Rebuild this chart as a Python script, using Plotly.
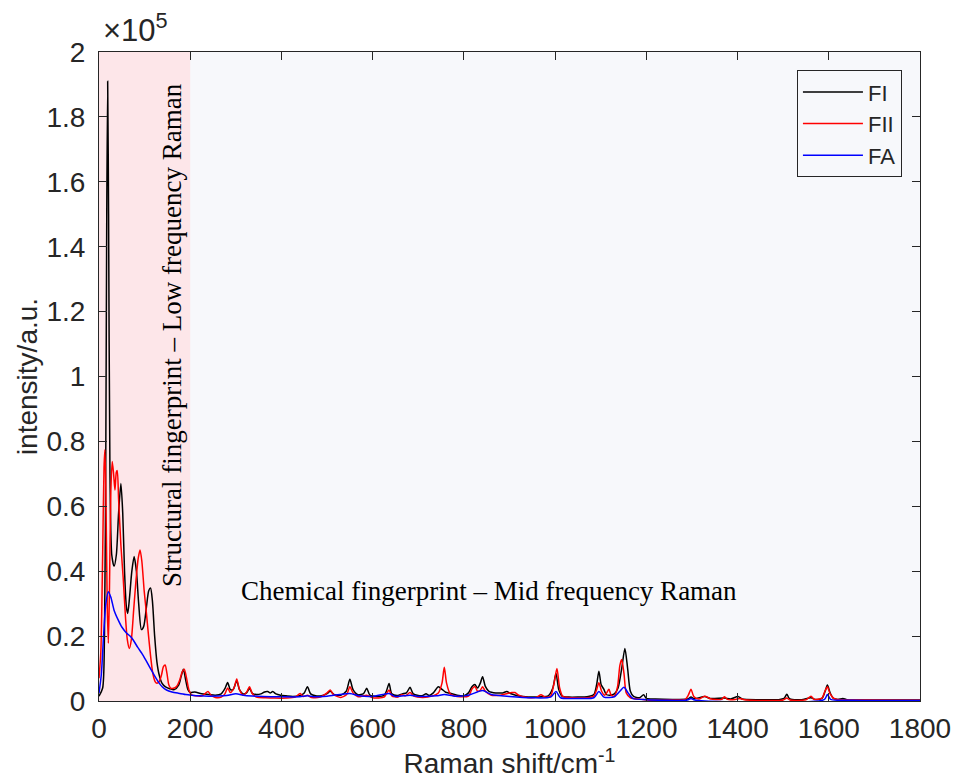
import plotly.graph_objects as go

# ---- data (Raman shift in cm^-1, intensity in a.u.) ----
fi_x = [0, 8, 12, 15, 17, 19, 21, 24, 28, 33, 38, 43, 48, 52, 56, 60, 63, 67, 72, 77, 82, 87, 93, 98, 104, 109, 113, 117, 122, 127, 132, 138, 145, 155, 165, 175, 180, 185, 190, 195, 200,
        210, 225, 240, 255, 268, 276, 282, 288, 294, 302, 308, 316, 324, 330, 336, 345, 355, 363, 370, 375, 381, 388, 398, 410, 425, 440, 450, 457, 464, 475, 490, 500, 507, 515, 530, 542, 550, 557, 568, 580, 587, 594, 610, 625, 630, 636, 642, 655, 665, 674, 682, 689, 700, 710, 717, 724, 733, 744, 752, 760, 770, 785, 800, 810, 818, 824, 830, 836, 841, 847, 855, 870, 885, 894, 902, 915, 930, 950, 970, 985, 995, 1002, 1008, 1015, 1030, 1050, 1070, 1085, 1091, 1096, 1101, 1107, 1112, 1120, 1130, 1138, 1146, 1153, 1159, 1165, 1172, 1185, 1194, 1200, 1220, 1260, 1290, 1298, 1305, 1328, 1340, 1371, 1385, 1401, 1410, 1450, 1490, 1502, 1508, 1514, 1540, 1561, 1570, 1585, 1592, 1597, 1603, 1610, 1620, 1631, 1640, 1700, 1800]
fi_y = [1500, 4000, 20000, 80000, 150000, 191000, 150000, 70000, 45000, 41500, 45000, 58000, 67000, 58000, 40000, 29000, 27000, 32000, 40000, 44500, 40000, 30000, 22000, 23000, 29000, 34000, 34800, 31000, 20000, 12000, 8000, 5500, 4400, 3800, 3500, 5000, 7500, 9800, 6500, 3500, 2600,
        2800, 2200, 2000, 1800, 2200, 3800, 5700, 3500, 3500, 6200, 3500, 2200, 2600, 3900, 2400, 2000, 2200, 2800, 2900, 2500, 2900, 2200, 1800, 1600, 1400, 1600, 2500, 4400, 2200, 1600, 1700, 2300, 3000, 2000, 1800, 3000, 6700, 3500, 1900, 2300, 3900, 1800, 1400, 1700, 3000, 5400, 2200, 1700, 2200, 2500, 4200, 2200, 1700, 1700, 2200, 1700, 2500, 4400, 3600, 2700, 2400, 1800, 1600, 2500, 4500, 5100, 4000, 5500, 7500, 4500, 3000, 2500, 2500, 2900, 2300, 1700, 1400, 1200, 1300, 1600, 4000, 8500, 3500, 1500, 1200, 1200, 1300, 2000, 5000, 9200, 5000, 3600, 2000, 1800, 2200, 4000, 10000, 16200, 10000, 3000, 1400, 1000, 1900, 800, 600, 500, 600, 1200, 700, 1400, 800, 900, 600, 1400, 600, 400, 400, 800, 2100, 700, 400, 1000, 500, 800, 3000, 4900, 2500, 800, 500, 800, 400, 300, 300]

fii_x = [0, 4, 8, 11, 13, 15, 18, 20.5, 23, 26, 29, 32, 35, 38, 40, 43, 48, 53, 58, 62, 66.5, 71, 76, 81, 86, 90, 94, 99, 104, 108, 113, 118, 123, 127, 132, 137, 141, 145, 149, 153, 157, 163, 170, 177, 182, 187, 192, 197, 203,
         212, 225, 232, 239, 246, 255, 268, 276, 282, 288, 296, 302, 308, 316, 324, 330, 336, 345, 365, 385, 410, 430, 441, 448, 457, 466, 485, 500, 507, 514, 530, 543, 550, 557, 568, 587, 600, 625, 630, 636, 642, 655, 664, 672, 682, 690, 710, 730, 744, 752, 757, 762, 770, 785, 810, 818, 824, 830, 836, 841, 847, 860, 880, 895, 905, 912, 920, 940, 960, 969, 978, 990, 997, 1004, 1010, 1017, 1040, 1070, 1085, 1091, 1096, 1102, 1108, 1113, 1118, 1123, 1130, 1137, 1142, 1146, 1151, 1156, 1165, 1190, 1200, 1250, 1285, 1292, 1298, 1304, 1315, 1328, 1340, 1365, 1371, 1378, 1395, 1405, 1415, 1500, 1508, 1515, 1550, 1561, 1568, 1585, 1592, 1597, 1603, 1612, 1625, 1650, 1800]
fii_y = [7000, 15000, 45000, 72000, 77400, 65000, 30000, 17800, 35000, 65000, 73800, 70000, 65000, 70500, 71000, 62000, 48000, 38000, 26000, 19000, 16200, 19000, 28000, 37000, 44000, 46500, 43000, 34000, 27000, 21000, 14000, 8500, 6000, 5500, 6000, 8000, 10500, 11100, 8500, 5000, 4000, 3900, 4500, 6500, 8800, 9800, 7000, 3500, 1900,
         1600, 1500, 2200, 2900, 1700, 1100, 1200, 2200, 4000, 2600, 4000, 6800, 3500, 1800, 2800, 4400, 2300, 1200, 1000, 900, 900, 1200, 2300, 1400, 1800, 1100, 1200, 2500, 3400, 2000, 1100, 2000, 4400, 2500, 1300, 1800, 1000, 1200, 2200, 3400, 1600, 1200, 1900, 1600, 2600, 1500, 1100, 1500, 2500, 5500, 10400, 5500, 2200, 1400, 1500, 3800, 4500, 3000, 3300, 4400, 3000, 1800, 1800, 2300, 2600, 2600, 1800, 1100, 1200, 1900, 1200, 1500, 5000, 10000, 4000, 1400, 1000, 1000, 1500, 3500, 5600, 3000, 1800, 2500, 3600, 1800, 1500, 4500, 11000, 12800, 8500, 2500, 1000, 500, 300, 300, 500, 1800, 3600, 1400, 600, 1500, 700, 500, 1300, 500, 500, 800, 400, 300, 900, 300, 400, 1500, 500, 900, 3200, 4400, 2200, 700, 400, 300, 200]

fa_x = [0, 5, 10, 15, 20.5, 26, 33, 42, 50, 60.7, 68, 75, 85, 94, 103, 112, 121, 130, 139, 148, 160, 174, 190, 203, 220, 240, 280, 300, 320, 360, 400, 440, 457, 470, 500, 550, 570, 600, 636, 650, 682, 700, 740, 757, 780, 810, 841, 860, 900, 950, 990, 1002, 1012, 1050, 1085, 1096, 1107, 1130, 1142, 1151, 1160, 1170, 1200, 1290, 1298, 1306, 1590, 1597, 1604, 1650, 1800]
fa_y = [2500, 8000, 20000, 30000, 33700, 32000, 28000, 25000, 22800, 20900, 20000, 18800, 16500, 14700, 12500, 10200, 8000, 5900, 4300, 3400, 2800, 2400, 2000, 1800, 1600, 1500, 1700, 2200, 1700, 1400, 1300, 1300, 1600, 1300, 1500, 2300, 1600, 1400, 2300, 1400, 1800, 1400, 1600, 2000, 1500, 1800, 3200, 2000, 1400, 1000, 1200, 2900, 1000, 800, 1000, 2900, 1200, 1300, 3000, 4200, 2500, 800, 400, 300, 800, 300, 400, 2000, 500, 200, 150]

series_names = ["FI", "FII", "FA"]
series_colors = ["#000000", "#ff0000", "#0000ff"]

y_tick_vals = [0, 20000, 40000, 60000, 80000, 100000, 120000, 140000, 160000, 180000, 200000]
y_tick_text = ["0", "0.2", "0.4", "0.6", "0.8", "1", "1.2", "1.4", "1.6", "1.8", "2"]
x_tick_vals = [0, 200, 400, 600, 800, 1000, 1200, 1400, 1600, 1800]

low_region = [0, 200]

fig = go.Figure()
for name, xs, ys, col in zip(series_names, [fi_x, fii_x, fa_x], [fi_y, fii_y, fa_y], series_colors):
    fig.add_trace(go.Scatter(x=xs, y=ys, mode="lines", name=name,
                             line=dict(color=col, width=1.5, shape="spline", smoothing=0.7)))

fig.add_shape(type="rect", xref="x", yref="y", x0=low_region[0], x1=low_region[1], y0=0, y1=200000,
              fillcolor="#fde6e9", line=dict(width=0), layer="below")

axis_common = dict(showgrid=False, zeroline=False, showline=True, linecolor="#262626", linewidth=1,
                   mirror="ticks", ticks="inside", ticklen=8, tickcolor="#262626", automargin=False,
                   tickfont=dict(family="Liberation Sans, Arial", size=28, color="#262626"))

fig.update_layout(
    width=956, height=781,
    margin=dict(l=99, r=36, t=52, b=80),
    paper_bgcolor="white", plot_bgcolor="#f7f8fb",
    xaxis=dict(range=[0, 1800], tickvals=x_tick_vals, ticklabelstandoff=2,
               title=dict(text="Raman shift/cm<sup>-1</sup>", font=dict(family="Liberation Sans, Arial", size=28, color="#262626"), standoff=6),
               **axis_common),
    yaxis=dict(range=[0, 200000], tickvals=y_tick_vals, ticktext=y_tick_text, ticklabelstandoff=7,
               title=dict(text="intensity/a.u.", font=dict(family="Liberation Sans, Arial", size=28, color="#262626"), standoff=0),
               **axis_common),
    legend=dict(x=0.978, y=0.972, xanchor="right", yanchor="top", bgcolor="#f7f8fb",
                bordercolor="#262626", borderwidth=1, itemwidth=60,
                font=dict(family="Liberation Sans, Arial", size=22, color="#262626"), tracegroupgap=0),
    showlegend=True,
)

fig.add_annotation(xref="paper", yref="paper", x=0.0, y=1.0, xanchor="left", yanchor="bottom",
                   text="×10<sup>5</sup>", showarrow=False, yshift=2, xshift=2,
                   font=dict(family="Liberation Sans, Arial", size=31, color="#262626"))
fig.add_annotation(xref="x", yref="y", x=160, y=112800, text="Structural fingerprint – Low frequency Raman",
                   textangle=-90, showarrow=False,
                   font=dict(family="Liberation Serif, Times New Roman", size=27, color="black"))
fig.add_annotation(xref="x", yref="y", x=855, y=34000, text="Chemical fingerprint – Mid frequency Raman",
                   showarrow=False,
                   font=dict(family="Liberation Serif, Times New Roman", size=27, color="black"))

fig.write_html("out.html")
